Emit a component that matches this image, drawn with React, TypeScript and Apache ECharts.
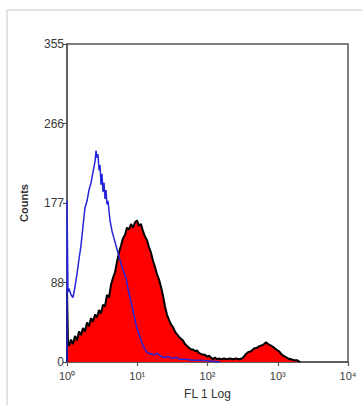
import React, { useEffect, useRef } from "react";
import * as echarts from "echarts";

// log10(FL1) position, count
const redSeries: [number, number][] = [
  [0, 0], [0, 82], [0.014, 22], [0.028, 18], [0.057, 25], [0.085, 20], [0.114, 29], [0.142, 24],
  [0.171, 34], [0.199, 30], [0.228, 38], [0.256, 34], [0.285, 44], [0.313, 40],
  [0.342, 49], [0.37, 45], [0.399, 53], [0.427, 50], [0.456, 58], [0.484, 54],
  [0.512, 64], [0.541, 62], [0.569, 75], [0.598, 72], [0.626, 86], [0.655, 94],
  [0.683, 100], [0.712, 112], [0.74, 122], [0.769, 130], [0.797, 138], [0.826, 142],
  [0.854, 150], [0.883, 148], [0.911, 154], [0.94, 150], [0.968, 156], [0.996, 158],
  [1.025, 152], [1.053, 154], [1.082, 146], [1.11, 140], [1.139, 136], [1.167, 128],
  [1.196, 122], [1.224, 113], [1.253, 106], [1.281, 98], [1.31, 92], [1.338, 84],
  [1.367, 74], [1.395, 62], [1.423, 53], [1.452, 47], [1.48, 42], [1.509, 39],
  [1.537, 34], [1.566, 31], [1.594, 28], [1.623, 26], [1.651, 24], [1.68, 20],
  [1.708, 18], [1.737, 16], [1.765, 14], [1.794, 14], [1.822, 12], [1.851, 13],
  [1.879, 10], [1.907, 9], [1.936, 8], [1.964, 8], [1.993, 6], [2.021, 7],
  [2.05, 5], [2.078, 3], [2.107, 5], [2.135, 3], [2.164, 4], [2.192, 3],
  [2.235, 4], [2.278, 3], [2.32, 4], [2.363, 3], [2.406, 4], [2.448, 3],
  [2.491, 4], [2.52, 6], [2.548, 9], [2.577, 11], [2.619, 12], [2.662, 15],
  [2.705, 16], [2.747, 18], [2.79, 19], [2.833, 22], [2.861, 20], [2.89, 19],
  [2.932, 17], [2.975, 14], [3.018, 12], [3.06, 8], [3.103, 6], [3.146, 4],
  [3.189, 3], [3.231, 2], [3.274, 2], [3.317, 0],
];

const blueSeries: [number, number][] = [
  [0, 0], [0, 180], [0.014, 78], [0.028, 82], [0.057, 75], [0.085, 72], [0.114, 84], [0.142, 98],
  [0.171, 115], [0.199, 130], [0.228, 152], [0.256, 172], [0.285, 180], [0.313, 192],
  [0.342, 200], [0.37, 212], [0.399, 224], [0.413, 236], [0.427, 228], [0.441, 232],
  [0.456, 214], [0.47, 220], [0.484, 198], [0.498, 210], [0.512, 190], [0.527, 200],
  [0.541, 182], [0.555, 192], [0.569, 176], [0.584, 180], [0.612, 158], [0.641, 146],
  [0.669, 138], [0.697, 130], [0.726, 122], [0.754, 114], [0.783, 106], [0.811, 100],
  [0.84, 94], [0.868, 82], [0.897, 72], [0.925, 62], [0.954, 52], [0.982, 42],
  [1.011, 34], [1.039, 28], [1.068, 21], [1.096, 16], [1.125, 12], [1.153, 10],
  [1.196, 9], [1.238, 8], [1.281, 10], [1.324, 7], [1.381, 5], [1.438, 6],
  [1.495, 4], [1.552, 5], [1.609, 3], [1.694, 3], [1.779, 2], [1.893, 2],
  [2.036, 1], [2.178, 0],
];

const xTickLabels = ["10⁰", "10¹", "10²", "10³", "10⁴"];
const yTickLabels = ["0", "88", "177", "266", "355"];
const yMax = 355;
const yInterval = 88.75;

const FONT = "Arial, 'Liberation Sans', sans-serif";

export default function App() {
  const ref = useRef<HTMLDivElement>(null);
  useEffect(() => {
    if (!ref.current) return;
    const chart = echarts.init(ref.current, undefined, { renderer: "svg" });
    chart.setOption({
      animation: false,
      backgroundColor: "#ffffff",
      grid: {
        left: 67,
        top: 44,
        right: 14,
        bottom: 40,
        show: true,
        borderColor: "#555555",
        borderWidth: 1.5,
        backgroundColor: "transparent",
      },
      graphic: [
        { type: "line", shape: { x1: 7, y1: 10, x2: 362, y2: 10 }, style: { stroke: "#e2e2e2", lineWidth: 2 } },
        { type: "line", shape: { x1: 7, y1: 10, x2: 7, y2: 405 }, style: { stroke: "#e2e2e2", lineWidth: 2 } },
      ],
      xAxis: {
        type: "value",
        min: 0,
        max: 4,
        interval: 1,
        name: "FL 1 Log",
        nameLocation: "middle",
        nameGap: 26,
        nameTextStyle: { fontFamily: FONT, fontSize: 12, color: "#333" },
        axisLine: { show: true, lineStyle: { color: "#555", width: 1.5 } },
        axisTick: { show: true, length: 4, lineStyle: { color: "#555", width: 1.2 } },
        axisLabel: {
          fontFamily: FONT,
          fontSize: 11,
          color: "#3a3a3a",
          margin: 8,
          formatter: (v: number) => xTickLabels[Math.round(v)] ?? "",
        },
        splitLine: { show: false },
      },
      yAxis: {
        type: "value",
        min: 0,
        max: yMax,
        interval: yInterval,
        name: "Counts",
        nameLocation: "middle",
        nameGap: 38,
        nameRotate: 90,
        nameTextStyle: { fontFamily: FONT, fontSize: 11, fontWeight: "bold", color: "#333" },
        axisLine: { show: true, lineStyle: { color: "#555", width: 1.5 } },
        axisTick: { show: true, length: 4, lineStyle: { color: "#555", width: 1.2 } },
        axisLabel: {
          fontFamily: FONT,
          fontSize: 12,
          color: "#3a3a3a",
          margin: 3,
          formatter: (v: number) => yTickLabels[Math.round(v / yInterval)] ?? "",
        },
        splitLine: { show: false },
      },
      series: [
        {
          type: "line",
          data: redSeries,
          symbol: "none",
          lineStyle: { color: "#000000", width: 2 },
          areaStyle: { color: "#ff0000", opacity: 1 },
          z: 2,
        },
        {
          type: "line",
          data: blueSeries,
          symbol: "none",
          lineStyle: { color: "#2626d9", width: 1.5 },
          z: 3,
        },
      ],
    });
    return () => chart.dispose();
  }, []);
  return (
    <div
      ref={ref}
      style={{ position: "fixed", left: 0, top: 0, width: 362, height: 405, background: "#fff" }}
    />
  );
}
